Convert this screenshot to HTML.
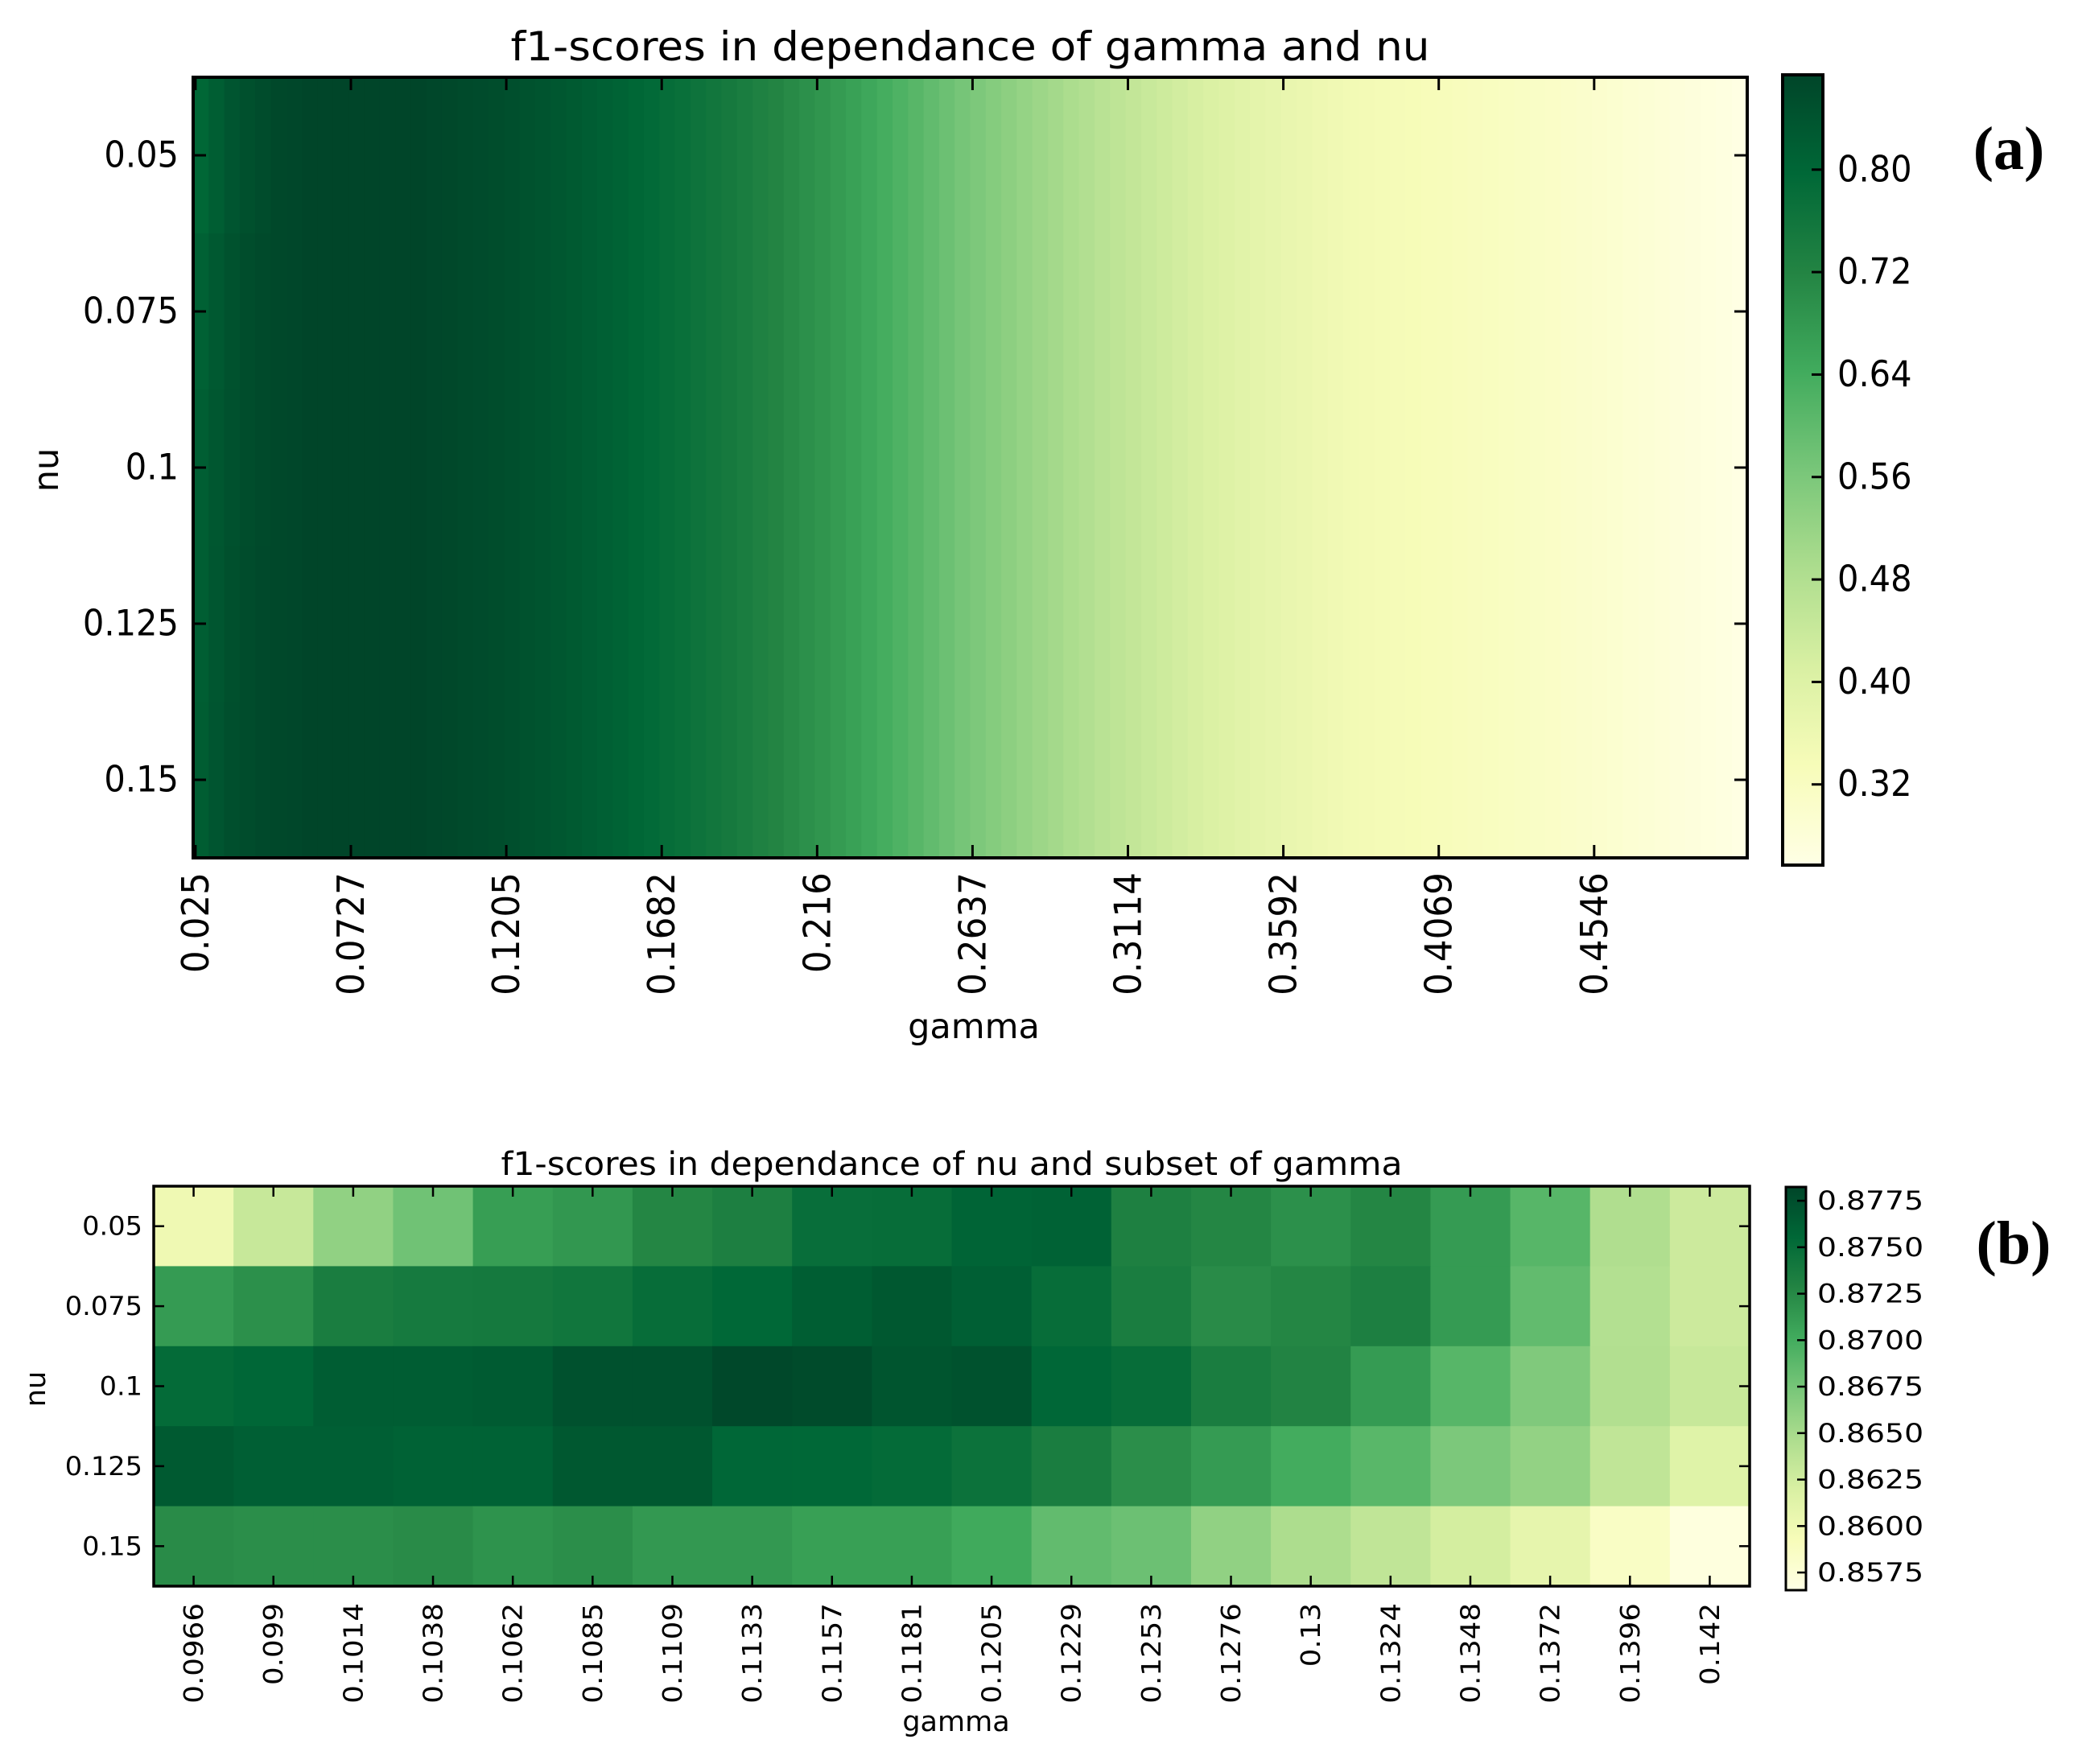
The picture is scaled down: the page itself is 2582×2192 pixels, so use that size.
<!DOCTYPE html>
<html><head><meta charset="utf-8"><style>
html,body{margin:0;padding:0;background:#fff}
svg{display:block;font-family:"DejaVu Sans","Liberation Sans",sans-serif}
</style></head><body>
<svg id="fig" width="2582" height="2192" viewBox="0 0 2582 2192" xmlns="http://www.w3.org/2000/svg">
<defs>
<linearGradient id="ylgn" x1="0" y1="1" x2="0" y2="0">
<stop offset="0" stop-color="#ffffe5"/><stop offset="0.125" stop-color="#f7fcb9"/><stop offset="0.25" stop-color="#d9f0a3"/><stop offset="0.375" stop-color="#addd8e"/><stop offset="0.5" stop-color="#78c679"/><stop offset="0.625" stop-color="#41ab5d"/><stop offset="0.75" stop-color="#238443"/><stop offset="0.875" stop-color="#006837"/><stop offset="1" stop-color="#004529"/>
</linearGradient>
</defs>
</svg>
<script>
// ---- Chart (a) data ----
const topNu = ['0.05','0.075','0.1','0.125','0.15'];
const topGammaTicks = ['0.025','0.0727','0.1205','0.1682','0.216','0.2637','0.3114','0.3592','0.4069','0.4546'];
const topProfile = [0.815,0.83,0.845,0.855,0.862,0.867,0.870,0.873,0.875,0.876,
0.877,0.877,0.876,0.875,0.873,0.870,0.867,0.864,0.860,0.856,
0.851,0.846,0.840,0.834,0.828,0.821,0.814,0.807,0.800,0.792,
0.784,0.776,0.767,0.758,0.749,0.739,0.729,0.719,0.708,0.697,
0.686,0.674,0.662,0.650,0.637,0.624,0.611,0.597,0.583,0.569,
0.558,0.546,0.535,0.523,0.512,0.501,0.490,0.479,0.468,0.458,
0.450,0.441,0.432,0.423,0.415,0.407,0.399,0.391,0.384,0.377,
0.370,0.364,0.358,0.353,0.348,0.345,0.342,0.339,0.336,0.333,
0.330,0.327,0.324,0.321,0.318,0.315,0.312,0.309,0.305,0.301,
0.297,0.293,0.289,0.285,0.281,0.277,0.273,0.269,0.265,0.261];
const topRowHead0 = [0.800,0.820,0.838,0.850,0.858];
const topRowHead1 = [0.812,0.830,0.846,0.856,0.863];
const topRowHead2 = [0.818,0.834,0.848,0.857,0.864];
const topRowHead3 = [0.820,0.836,0.850,0.858,0.865];
const topRowHead4 = [0.822,0.838,0.851,0.859,0.865];
const topCbarTicks = [0.32,0.40,0.48,0.56,0.64,0.72,0.80];
const topVmin = 0.257, topVmax = 0.874;

// ---- Chart (b) data ----
const botNu = ['0.05','0.075','0.1','0.125','0.15'];
const botGamma = ['0.0966','0.099','0.1014','0.1038','0.1062','0.1085','0.1109','0.1133','0.1157','0.1181','0.1205','0.1229','0.1253','0.1276','0.13','0.1324','0.1348','0.1372','0.1396','0.142'];
const botRow0 = [0.8600,0.8631,0.8661,0.8678,0.8710,0.8715,0.8727,0.8733,0.8749,0.8750,0.8758,0.8760,0.8732,0.8727,0.8720,0.8727,0.8712,0.8690,0.8645,0.8628];
const botRow1 = [0.8712,0.8720,0.8735,0.8738,0.8739,0.8742,0.8750,0.8755,0.8763,0.8768,0.8762,0.8750,0.8735,0.8723,0.8727,0.8733,0.8712,0.8685,0.8643,0.8628];
const botRow2 = [0.8752,0.8756,0.8764,0.8764,0.8765,0.8773,0.8773,0.8780,0.8778,0.8770,0.8772,0.8756,0.8750,0.8735,0.8729,0.8712,0.8690,0.8670,0.8644,0.8631];
const botRow3 = [0.8766,0.8762,0.8762,0.8760,0.8760,0.8768,0.8768,0.8756,0.8755,0.8752,0.8746,0.8735,0.8721,0.8712,0.8700,0.8689,0.8672,0.8660,0.8635,0.8614];
const botRow4 = [0.8723,0.8721,0.8721,0.8723,0.8718,0.8721,0.8714,0.8714,0.8709,0.8709,0.8702,0.8685,0.8680,0.8661,0.8647,0.8635,0.8623,0.8608,0.8585,0.8570];
const botCbarTicks = ['0.8575','0.8600','0.8625','0.8650','0.8675','0.8700','0.8725','0.8750','0.8775'];
const botVmin = 0.85655, botVmax = 0.87824;

const NS = 'http://www.w3.org/2000/svg';
const svg = document.getElementById('fig');
const STOPS = ['#ffffe5','#f7fcb9','#d9f0a3','#addd8e','#78c679','#41ab5d','#238443','#006837','#004529'];
function hex(h){return [1,3,5].map(i=>parseInt(h.substr(i,2),16));}
function cmap(t){t=Math.max(0,Math.min(1,t));const p=t*8;const i=Math.min(7,Math.floor(p));const f=p-i;const a=hex(STOPS[i]),b=hex(STOPS[i+1]);
 return 'rgb('+a.map((v,k)=>Math.round(v+(b[k]-v)*f)).join(',')+')';}
function mk(tag,attrs,parent){const e=document.createElementNS(NS,tag);for(const k in attrs)e.setAttribute(k,attrs[k]);(parent||svg).appendChild(e);return e;}
function cw(s){let w=0;for(const c of s){w+= /[0-9]/.test(c)?0.636:(c==='.'?0.318:(c===' '?0.318:0.6));}return w;}
function txt(x,y,s,size,anchor,factor,name,rot,parent){
 const t=mk('text',{x:x,y:y,'font-size':size,'text-anchor':anchor,'dominant-baseline':'central',fill:'#000',
  textLength:(cw(s)*size*factor).toFixed(1),lengthAdjust:'spacingAndGlyphs'},parent);
 if(rot)t.setAttribute('transform','rotate(-90 '+x+' '+y+')');
 t.textContent=s;
 
 
 return t;}
function label(x,y,s,size,name,rot){
 const t=mk('text',{x:x,y:y,'font-size':size,'text-anchor':'middle','dominant-baseline':'central',fill:'#000'});
 if(rot)t.setAttribute('transform','rotate(-90 '+x+' '+y+')');
 t.textContent=s;
 
 
 return t;}

// ================= Chart (a) =================
(function(){
 const L=240,R=2171,T=96,B=1066;
 const nCols=topProfile.length, nRows=topNu.length;
 const g=mk('g',{});
 
 
 const heads=[topRowHead0,topRowHead1,topRowHead2,topRowHead3,topRowHead4];
 const xs=i=>L+(R-L)*i/nCols, ys=j=>T+(B-T)*j/nRows;
 const col=v=>cmap((v-topVmin)/(topVmax-topVmin));
 for(let j=0;j<nRows;j++)for(let i=0;i<nCols;i++){
  const v=(i<heads[j].length)?heads[j][i]:topProfile[i];
  const r=mk('rect',{x:xs(i).toFixed(2),y:ys(j).toFixed(2),width:((R-L)/nCols+0.6).toFixed(2),height:((B-T)/nRows+0.6).toFixed(2),fill:col(v)},g);
  
  
 }
 const fr=mk('rect',{x:L,y:T,width:R-L,height:B-T,fill:'none',stroke:'#000','stroke-width':4});
 
 
 for(let j=0;j<nRows;j++){const y=ys(j+0.5);
  mk('line',{x1:L,x2:L+16,y1:y,y2:y,stroke:'#000','stroke-width':3});
  mk('line',{x1:R-16,x2:R,y1:y,y2:y,stroke:'#000','stroke-width':3});
  txt(222,y,topNu[j],44.5,'end',0.935,'y-tick-label-a');}
 for(let k=0;k<topGammaTicks.length;k++){const x=xs(k*10+0.15);
  mk('line',{x1:x,x2:x,y1:B-16,y2:B,stroke:'#000','stroke-width':3});
  mk('line',{x1:x,x2:x,y1:T,y2:T+16,stroke:'#000','stroke-width':3});
  txt(x,1084,topGammaTicks[k],46,'end',0.95,'x-tick-label-a',true);}
 const tt=mk('text',{x:(L+R)/2,y:58,'font-size':50,'text-anchor':'middle','dominant-baseline':'central',textLength:1142,lengthAdjust:'spacingAndGlyphs'});
 tt.textContent='f1-scores in dependance of gamma and nu';
 
 
 label(1210,1276,'gamma',43,'x-axis-title-a');
 label(58,584,'nu',43,'y-axis-title-a',true);
 const cL=2215,cR=2265,cT=93,cB=1075;
 const cb=mk('rect',{x:cL,y:cT,width:cR-cL,height:cB-cT,fill:'url(#ylgn)',stroke:'#000','stroke-width':4});
 
 
 for(const v of topCbarTicks){const y=cB-(v-topVmin)/(topVmax-topVmin)*(cB-cT);
  mk('line',{x1:cR-14,x2:cR,y1:y,y2:y,stroke:'#000','stroke-width':3});
  txt(2283,y,v.toFixed(2),44.5,'start',0.935,'colorbar-tick-label-a');}
 const la=mk('text',{x:2496,y:185,'font-size':76,'font-weight':'bold','text-anchor':'middle','dominant-baseline':'central','font-family':'"Liberation Serif",serif'});
 la.textContent='(a)';
 
 
})();

// ================= Chart (b) =================
(function(){
 const L=191,R=2174,T=1474,B=1971;
 const rows=[botRow0,botRow1,botRow2,botRow3,botRow4];
 const nCols=botGamma.length,nRows=botNu.length;
 const xs=i=>L+(R-L)*i/nCols, ys=j=>T+(B-T)*j/nRows;
 const col=v=>cmap((v-botVmin)/(botVmax-botVmin));
 const g=mk('g',{});
 
 
 for(let j=0;j<nRows;j++)for(let i=0;i<nCols;i++){
  const r=mk('rect',{x:xs(i).toFixed(2),y:ys(j).toFixed(2),width:((R-L)/nCols+0.6).toFixed(2),height:((B-T)/nRows+0.6).toFixed(2),fill:col(rows[j][i])},g);
  
  
 }
 const fr=mk('rect',{x:L,y:T,width:R-L,height:B-T,fill:'none',stroke:'#000','stroke-width':3.5});
 
 
 for(let j=0;j<nRows;j++){const y=ys(j+0.5);
  mk('line',{x1:L,x2:L+13,y1:y,y2:y,stroke:'#000','stroke-width':2.5});
  mk('line',{x1:R-13,x2:R,y1:y,y2:y,stroke:'#000','stroke-width':2.5});
  txt(177,y,botNu[j],32,'end',1.05,'y-tick-label-b');}
 for(let i=0;i<nCols;i++){const x=xs(i+0.5);
  mk('line',{x1:x,x2:x,y1:B-13,y2:B,stroke:'#000','stroke-width':2.5});
  mk('line',{x1:x,x2:x,y1:T,y2:T+13,stroke:'#000','stroke-width':2.5});
  txt(x,1992,botGamma[i],33,'end',1.08,'x-tick-label-b',true);}
 const tt=mk('text',{x:(L+R)/2,y:1447,'font-size':40,'text-anchor':'middle','dominant-baseline':'central',textLength:1120,lengthAdjust:'spacingAndGlyphs'});
 tt.textContent='f1-scores in dependance of nu and subset of gamma';
 
 
 label(1188,2140,'gamma',35,'x-axis-title-b');
 label(45,1726,'nu',35,'y-axis-title-b',true);
 const cL=2219,cR=2244,cT=1475,cB=1976;
 const cb=mk('rect',{x:cL,y:cT,width:cR-cL,height:cB-cT,fill:'url(#ylgn)',stroke:'#000','stroke-width':3});
 
 
 for(const s of botCbarTicks){const v=parseFloat(s);const y=cB-(v-botVmin)/(botVmax-botVmin)*(cB-cT);
  mk('line',{x1:cR-11,x2:cR,y1:y,y2:y,stroke:'#000','stroke-width':2.5});
  txt(2258,y,s,32,'start',1.18,'colorbar-tick-label-b');}
 const lb=mk('text',{x:2502,y:1545,'font-size':76,'font-weight':'bold','text-anchor':'middle','dominant-baseline':'central','font-family':'"Liberation Serif",serif'});
 lb.textContent='(b)';
 
 
})();
</script>
</body></html>
